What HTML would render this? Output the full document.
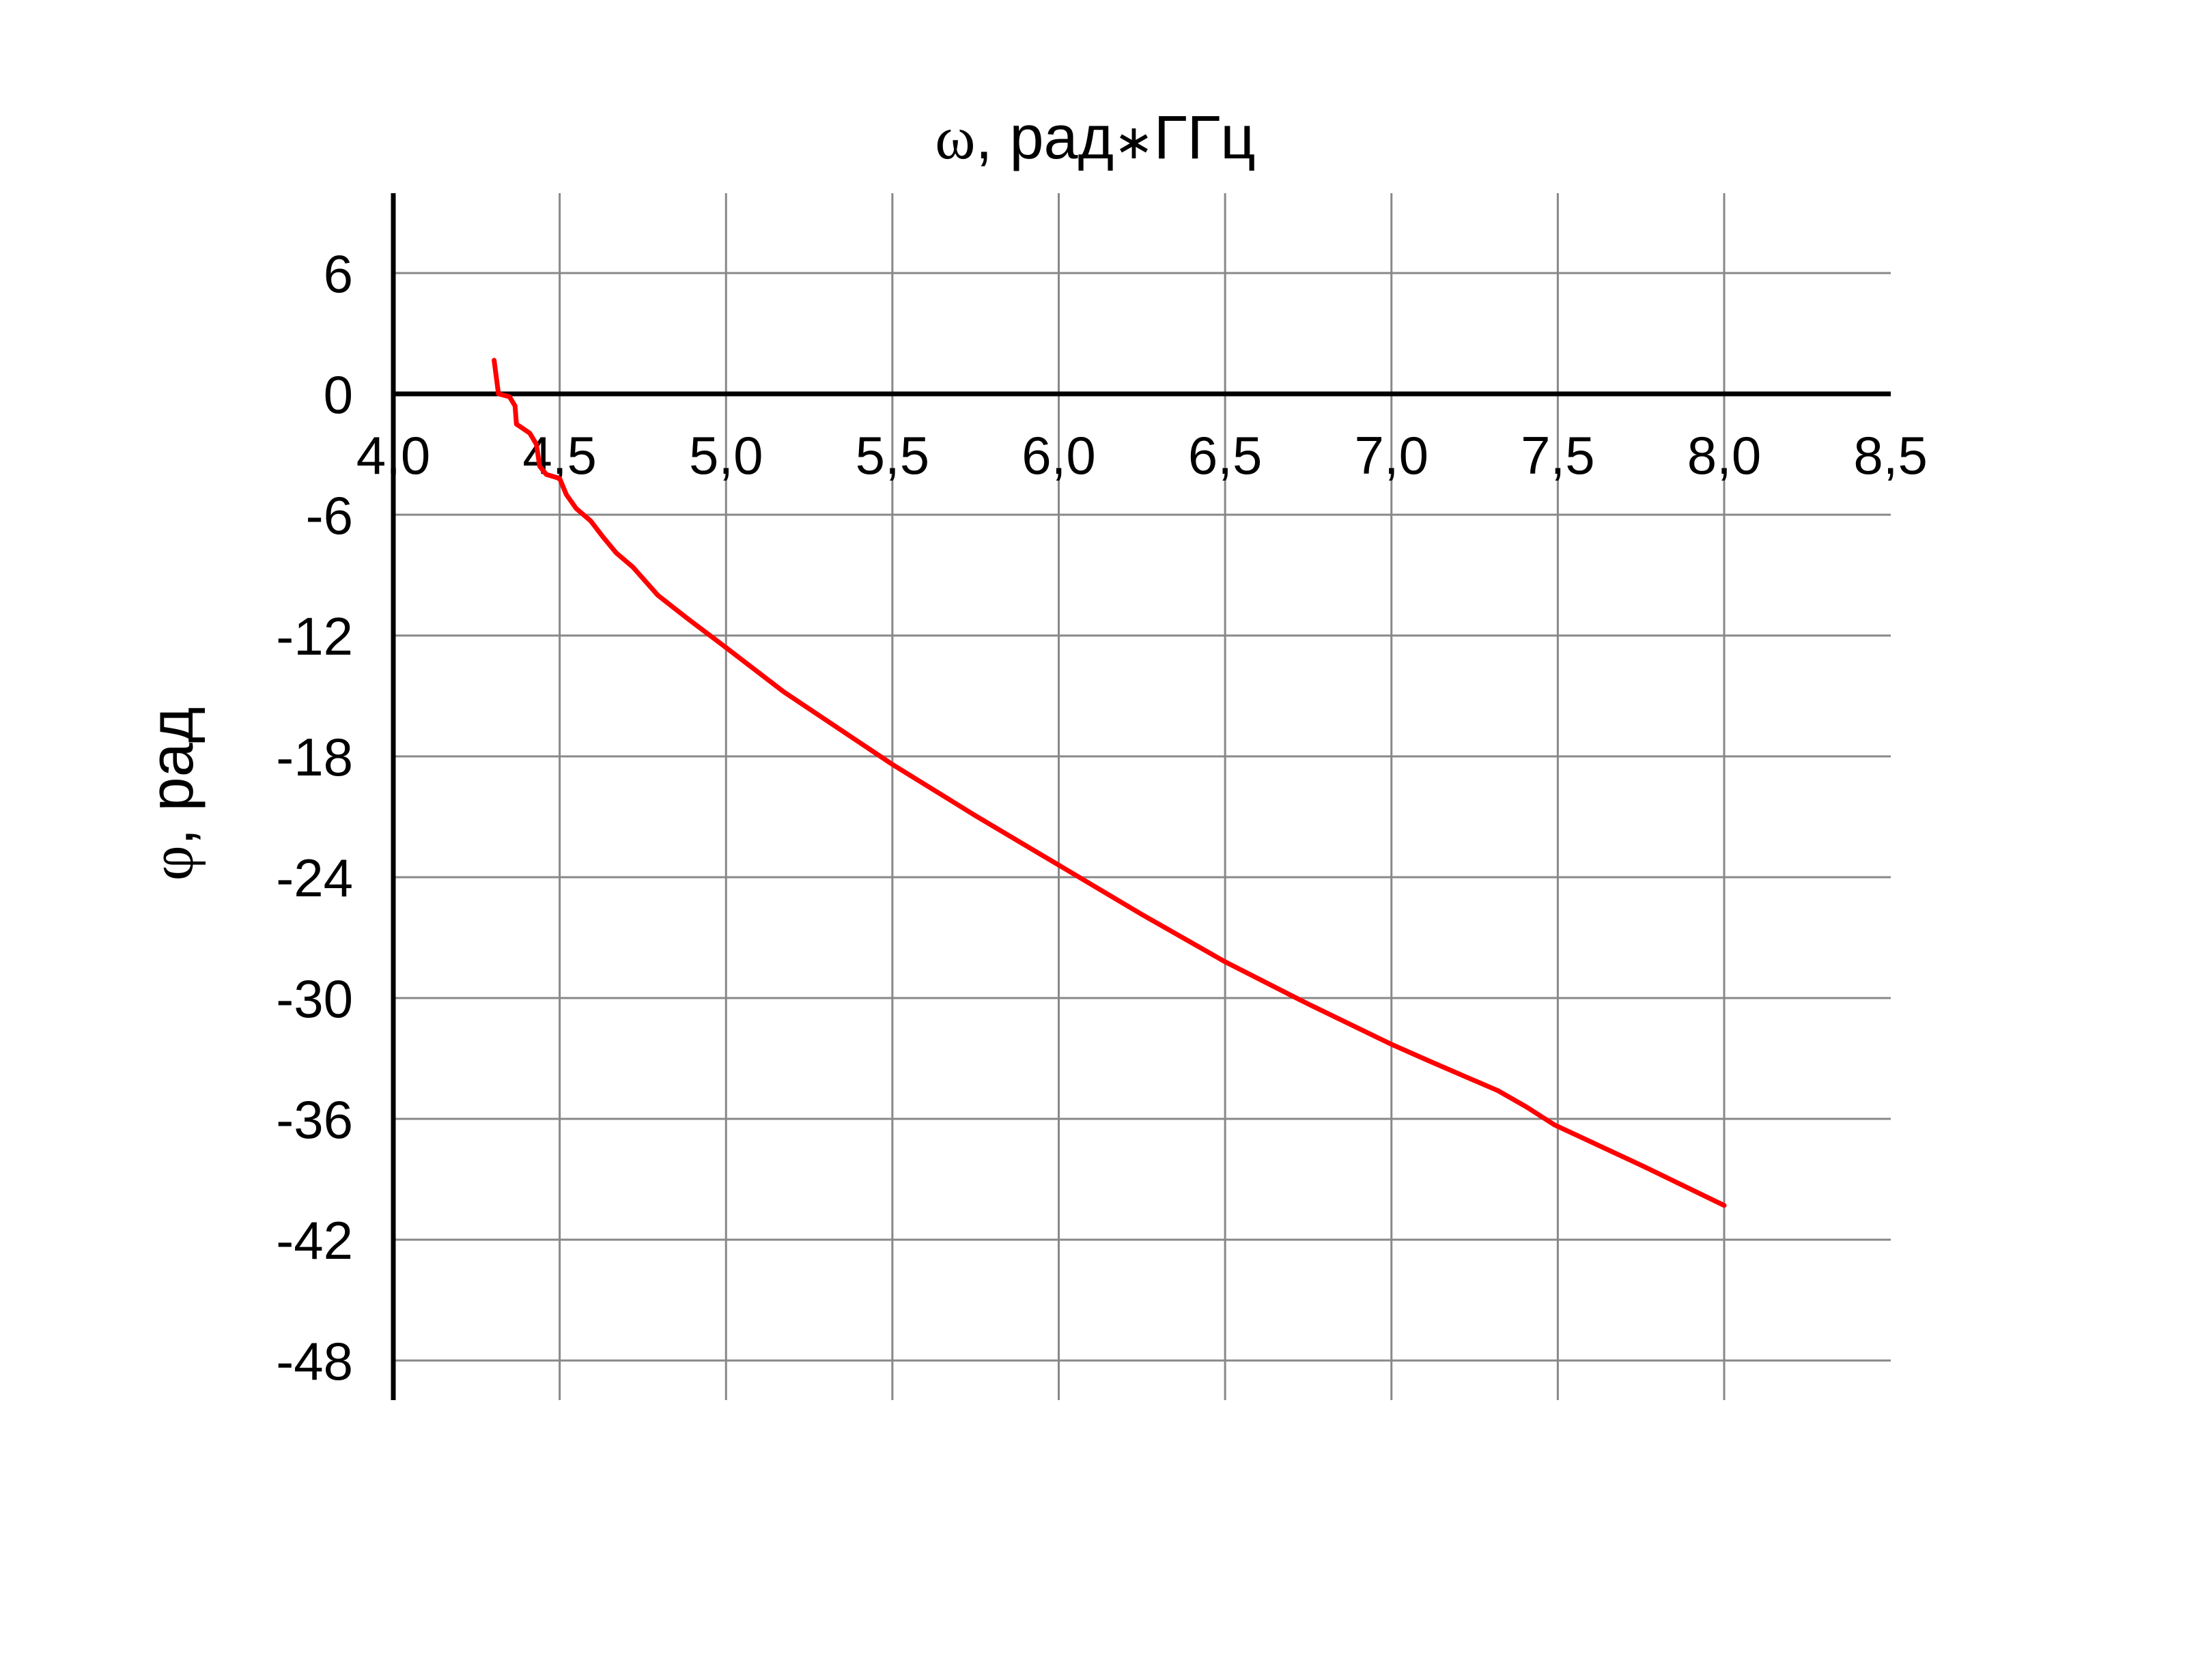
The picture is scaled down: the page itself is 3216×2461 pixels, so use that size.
<!DOCTYPE html>
<html><head><meta charset="utf-8"><style>
html,body{margin:0;padding:0;background:#fff;}
svg{display:block;}
text{font-family:"Liberation Sans",sans-serif;fill:#000;}
</style></head><body>
<svg id="chart" width="3216" height="2461" viewBox="0 0 3216 2461" xmlns="http://www.w3.org/2000/svg">
<rect width="3216" height="2461" fill="#fff"/>
<g id="grid"></g>
<g id="ticks"></g>
<text x="1604" y="232" font-size="90" text-anchor="middle"><tspan font-family="Liberation Serif,serif">ω</tspan>, рад<tspan font-size="70">∗</tspan>ГГц</text>
<text x="0" y="0" font-size="90" text-anchor="middle" transform="translate(282,1163) rotate(-90)"><tspan font-family="Liberation Serif,serif">φ</tspan>, рад</text>
<path id="series" fill="none" stroke="#ff0000" stroke-width="7" stroke-linejoin="round" stroke-linecap="round"/>
</svg>
<script>
const xTicks = [4.0, 4.5, 5.0, 5.5, 6.0, 6.5, 7.0, 7.5, 8.0, 8.5];
const xTickLabels = ["4,0","4,5","5,0","5,5","6,0","6,5","7,0","7,5","8,0","8,5"];
const yTicks = [6, 0, -6, -12, -18, -24, -30, -36, -42, -48];
const omega = [4.303,4.316,4.349,4.366,4.37,4.41,4.43,4.44,4.46,4.50,4.52,4.55,4.593,4.63,4.67,4.72,4.795,4.88,5.0,5.174,5.5,5.75,6.0,6.25,6.5,6.75,7.0,7.11,7.32,7.405,7.49,7.75,8.0];
const phi = [1.67,0,-0.14,-0.6,-1.5,-1.95,-2.5,-3.6,-4.0,-4.2,-5.0,-5.7,-6.3,-7.1,-7.9,-8.6,-10.0,-11.1,-12.6,-14.8,-18.4,-20.95,-23.4,-25.85,-28.2,-30.3,-32.3,-33.1,-34.6,-35.4,-36.3,-38.3,-40.3];

const NS = "http://www.w3.org/2000/svg";
function X(v){ return 576 + (v - 4) * 487.25; }
function Y(v){ return 577 - v * 29.5; }
const TOP = 283, BOT = 2051, RIGHT = 2769;
const grid = document.getElementById('grid');
const ticks = document.getElementById('ticks');
function line(x1,y1,x2,y2,stroke,w,name){
  const l = document.createElementNS(NS,'line');
  l.setAttribute('x1',x1);l.setAttribute('y1',y1);l.setAttribute('x2',x2);l.setAttribute('y2',y2);
  l.setAttribute('stroke',stroke);l.setAttribute('stroke-width',w);
  
  
  grid.appendChild(l);
}
xTicks.forEach((v,i)=>{
  if (i>0 && i<xTicks.length-1) line(X(v),TOP,X(v),BOT,'#888',3,'x-gridline');
  const t = document.createElementNS(NS,'text');
  t.setAttribute('x',X(v)); t.setAttribute('y',694);
  t.setAttribute('font-size','78'); t.setAttribute('text-anchor','middle');
  t.textContent = xTickLabels[i];
  
  
  ticks.appendChild(t);
});
yTicks.forEach(v=>{
  if (v!==0) line(X(4),Y(v),RIGHT,Y(v),'#888',3,'y-gridline');
  const t = document.createElementNS(NS,'text');
  t.setAttribute('x',517); t.setAttribute('y',Y(v)+28);
  t.setAttribute('font-size','78'); t.setAttribute('text-anchor','end');
  t.textContent = String(v);
  
  
  ticks.appendChild(t);
});
line(X(4),Y(0),RIGHT,Y(0),'#000',7,'x-axis-line');
line(X(4),TOP,X(4),BOT,'#000',7,'y-axis-line');
let d='';
omega.forEach((w,i)=>{ d += (i?'L':'M') + X(w).toFixed(1) + ' ' + Y(phi[i]).toFixed(1) + ' '; });
document.getElementById('series').setAttribute('d', d);
</script>
</body></html>
